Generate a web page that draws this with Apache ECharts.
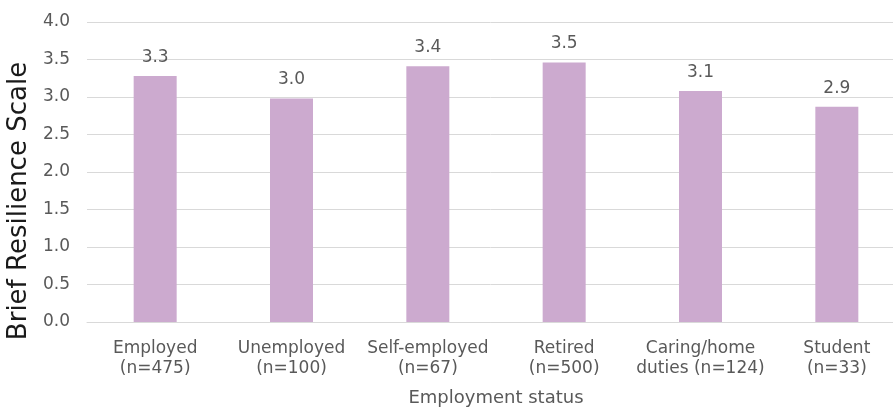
<!DOCTYPE html>
<html>
<head>
  <meta charset="utf-8">
  <title>Brief Resilience Scale</title>
  <script src="https://cdn.jsdelivr.net/npm/echarts/dist/echarts.min.js"></script>
  <style>
    html, body { margin: 0; padding: 0; background: #fff; }
    #main { width: 893px; height: 409px; }
  </style>
</head>
<body>
<div id="main"></div>
<script>
  const categories = [
    'Employed\n(n=475)',
    'Unemployed\n(n=100)',
    'Self-employed\n(n=67)',
    'Retired\n(n=500)',
    'Caring/home\nduties (n=124)',
    'Student\n(n=33)'
  ];
  const scores = [3.28, 2.98, 3.41, 3.46, 3.08, 2.87];

  const font = 'DejaVu Sans';
  const chart = echarts.init(document.getElementById('main'));

  chart.setOption({
    animation: false,
    textStyle: { fontFamily: font },
    grid: { left: 87, right: -12, top: 22, bottom: 87, outerBoundsMode: 'none', containLabel: false },
    xAxis: {
      type: 'category',
      data: categories,
      name: 'Employment status',
      nameLocation: 'middle',
      nameGap: 67,
      nameTextStyle: { fontSize: 18, color: '#595959', fontFamily: font },
      axisTick: { show: false },
      axisLine: { lineStyle: { color: '#d9d9d9', width: 1 } },
      axisLabel: { fontSize: 17, color: '#595959', margin: 17, lineHeight: 20, interval: 0, fontFamily: font }
    },
    yAxis: {
      type: 'value',
      min: 0,
      max: 4,
      interval: 0.5,
      name: 'Brief Resilience Scale',
      nameLocation: 'middle',
      nameGap: 55,
      nameTextStyle: { fontSize: 26, color: '#1a1a1a', fontFamily: font, padding: [0, 58, 0, 0] },
      axisLabel: {
        fontSize: 17, color: '#595959', margin: 17, fontFamily: font,
        formatter: v => v.toFixed(1)
      },
      splitLine: { lineStyle: { color: '#d9d9d9', width: 1 } }
    },
    series: [{
      type: 'bar',
      data: scores,
      barWidth: 43,
      itemStyle: { color: '#ccaacf' },
      label: {
        show: true,
        position: 'top',
        distance: 10,
        fontSize: 17,
        color: '#595959',
        fontFamily: font,
        formatter: p => p.value.toFixed(1)
      }
    }]
  });
</script>
</body>
</html>
